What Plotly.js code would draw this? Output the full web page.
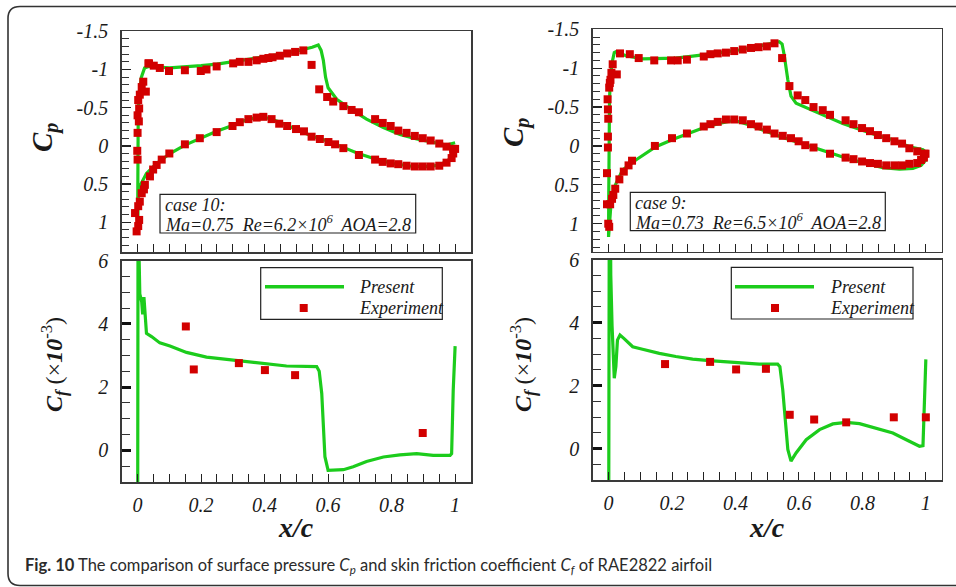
<!DOCTYPE html>
<html>
<head>
<meta charset="utf-8">
<script src="https://cdn.plot.ly/plotly-3.0.1.min.js"></script>
<style>html,body{margin:0;padding:0;background:#fff;}#chart{width:956px;height:587px;}</style>
</head>
<body>
<div id="chart"></div>
<script>
// ---------- Case 10 (Ma=0.75) : surface pressure ----------
const case10_cp_line_x = [1.0,0.978,0.952,0.92,0.868,0.8,0.746,0.695,0.648,0.6,0.548,0.495,0.443,0.396,0.348,0.301,0.249,0.149,0.102,0.06,0.028,0.007,0.002,0.0,
  0.0005,0.001,0.002,0.005,0.012,0.022,0.035,0.1,0.15,0.2,0.25,0.3,0.35,0.4,0.45,0.5,0.55,0.569,0.578,0.585,0.592,0.6,0.627,0.679,0.721,0.774,0.826,0.879,0.931,0.973,1.0];
const case10_cp_line = [0.07,0.19,0.25,0.27,0.27,0.23,0.17,0.10,0.02,-0.06,-0.13,-0.23,-0.32,-0.38,-0.35,-0.27,-0.19,-0.01,0.10,0.23,0.36,0.53,0.70,1.14,
  0.5,0.0,-0.4,-0.7,-0.9,-1.02,-1.04,-1.02,-1.03,-1.05,-1.07,-1.1,-1.13,-1.16,-1.2,-1.24,-1.29,-1.32,-1.25,-1.12,-0.9,-0.76,-0.61,-0.46,-0.35,-0.24,-0.15,-0.09,-0.04,-0.01,-0.04];
const case10_exp_x = [0.036,0.051,0.070,0.099,0.149,0.199,0.217,0.249,0.301,0.322,0.349,0.375,0.396,0.412,0.425,0.448,0.471,0.496,0.522,0.548,0.572,0.597,0.616,0.648,0.674,0.697,0.748,0.772,0.797,0.821,0.847,0.873,0.898,0.923,0.950,0.973,0.994,
  -0.001,0.0,0.0,0.004,0.0,0.005,0.002,0.007,0.013,0.018,0.026,0.034,
  0.039,0.049,0.06,0.076,0.1,0.023,0.02,0.013,0.007,0.002,-0.008,0.005,0.002,-0.003,
  0.149,0.196,0.249,0.299,0.322,0.349,0.375,0.396,0.422,0.446,0.471,0.499,0.524,0.548,0.574,0.601,0.622,0.648,0.697,0.748,0.772,0.797,0.821,0.847,0.873,0.898,0.923,0.950,0.973,0.989,0.994,1.0];
const case10_exp_cp = [-1.08,-1.05,-1.02,-0.98,-0.99,-0.98,-1.0,-1.04,-1.08,-1.10,-1.10,-1.12,-1.14,-1.15,-1.16,-1.18,-1.21,-1.23,-1.25,-1.06,-0.74,-0.64,-0.58,-0.52,-0.47,-0.44,-0.35,-0.30,-0.26,-0.20,-0.17,-0.13,-0.10,-0.07,-0.03,0.01,0.04,
  0.065,0.18,-0.17,-0.32,-0.40,-0.49,-0.60,-0.67,-0.77,-0.84,-0.71,-1.08,
  0.40,0.31,0.25,0.18,0.10,0.51,0.57,0.62,0.73,0.79,0.88,0.97,1.05,1.12,
  -0.02,-0.10,-0.18,-0.26,-0.31,-0.35,-0.37,-0.38,-0.35,-0.29,-0.26,-0.22,-0.19,-0.12,-0.09,-0.05,-0.02,0.03,0.12,0.18,0.21,0.23,0.24,0.26,0.27,0.27,0.27,0.26,0.22,0.16,0.10,0.04];

// ---------- Case 9 (Ma=0.73) : surface pressure ----------
const case9_cp_line_x = [1.0,0.985,0.959,0.917,0.864,0.812,0.759,0.707,0.654,0.601,0.549,0.496,0.444,0.396,0.349,0.297,0.212,0.149,0.086,0.044,0.018,0.007,0.0,
  0.0005,0.001,0.003,0.006,0.011,0.018,0.023,0.055,0.107,0.212,0.318,0.423,0.507,0.538,0.547,0.554,0.565,0.575,0.591,0.633,0.686,0.738,0.791,0.843,0.896,0.948,0.991,1.0];
const case9_cp_line = [0.18,0.25,0.29,0.30,0.28,0.23,0.17,0.10,0.03,-0.04,-0.11,-0.19,-0.27,-0.33,-0.29,-0.23,-0.10,0.01,0.18,0.31,0.53,0.78,1.17,
  0.70,-0.16,-0.6,-0.9,-1.07,-1.2,-1.21,-1.16,-1.12,-1.13,-1.18,-1.24,-1.32,-1.34,-1.31,-1.16,-0.85,-0.64,-0.55,-0.47,-0.38,-0.29,-0.21,-0.14,-0.08,0.01,0.05,0.08];
const case9_exp_x = [0.036,0.067,0.095,0.144,0.197,0.218,0.247,0.300,0.321,0.344,0.370,0.396,0.423,0.449,0.473,0.499,0.523,0.547,0.570,0.596,0.620,0.646,0.675,0.698,0.747,0.772,0.799,0.824,0.849,0.875,0.901,0.925,0.948,0.973,0.996,
  -0.003,-0.002,-0.001,-0.002,-0.002,0.002,0.004,0.006,0.009,0.013,0.026,
  -0.005,-0.005,-0.001,0.002,0.005,0.011,0.015,0.021,0.034,0.048,0.063,0.074,
  0.146,0.200,0.247,0.300,0.321,0.344,0.370,0.396,0.423,0.449,0.473,0.499,0.523,0.549,0.575,0.599,0.620,0.646,0.698,0.747,0.772,0.799,0.824,0.849,0.875,0.901,0.925,0.948,0.973,0.985,0.994,0.999];
const case9_exp_cp = [-1.19,-1.18,-1.13,-1.10,-1.10,-1.10,-1.11,-1.15,-1.18,-1.19,-1.20,-1.22,-1.24,-1.26,-1.27,-1.28,-1.32,-1.13,-0.77,-0.65,-0.59,-0.50,-0.46,-0.40,-0.33,-0.28,-0.23,-0.19,-0.14,-0.10,-0.06,-0.03,0.03,0.07,0.10,
  -0.60,-0.47,-0.35,-0.12,0.02,-0.75,-0.81,-0.85,-0.94,-1.05,-0.92,
  0.35,0.75,1.00,1.04,0.75,0.68,0.63,0.55,0.43,0.33,0.25,0.19,
  0.00,-0.10,-0.16,-0.25,-0.28,-0.31,-0.34,-0.34,-0.33,-0.28,-0.25,-0.21,-0.16,-0.13,-0.10,-0.06,-0.01,0.02,0.10,0.15,0.17,0.20,0.22,0.23,0.25,0.25,0.25,0.23,0.22,0.18,0.15,0.10];

// ---------- Skin friction (x 10^-3) ----------
const case10_cf_line_x = [0,0.002,0.005,0.007,0.013,0.016,0.02,0.028,0.044,0.07,0.102,0.154,0.217,0.301,0.406,0.469,0.564,0.572,0.58,0.585,0.59,0.6,0.648,0.679,0.721,0.774,0.826,0.879,0.931,0.984,0.989,0.994,1.0];
const case10_cf_line = [-5,12,6,4.95,4.7,4.3,4.85,3.7,3.6,3.4,3.3,3.1,2.95,2.85,2.72,2.67,2.65,2.5,1.8,0.85,-0.2,-0.63,-0.61,-0.52,-0.35,-0.21,-0.14,-0.1,-0.16,-0.16,-0.1,1.9,3.3];
const case10_cf_exp_x = [0.152,0.177,0.319,0.401,0.496,0.898];
const case10_cf_exp = [3.92,2.56,2.76,2.54,2.38,0.55];

const case9_cf_line_x = [0,0.003,0.007,0.011,0.018,0.023,0.028,0.036,0.049,0.076,0.107,0.16,0.212,0.265,0.318,0.423,0.475,0.533,0.54,0.549,0.559,0.565,0.575,0.591,0.623,0.665,0.707,0.749,0.791,0.843,0.896,0.948,0.98,0.991,0.996,1.0];
const case9_cf_line = [-5,12,5.5,3.9,2.23,2.6,3.44,3.6,3.49,3.23,3.15,3.02,2.92,2.84,2.79,2.71,2.68,2.68,2.6,1.86,0.7,-0.03,-0.4,-0.14,0.28,0.6,0.78,0.83,0.79,0.65,0.49,0.23,0.07,0.09,1.86,2.83];
const case9_cf_exp_x = [0.178,0.320,0.402,0.496,0.571,0.648,0.749,0.899,1.0];
const case9_cf_exp = [2.68,2.75,2.51,2.53,1.07,0.92,0.83,0.99,0.99];

// ---------- tick labels ----------
const cpTickVals = [-1.5,-1,-0.5,0,0.5,1];
const cpTickText = ["-1.5","-1","-0.5","0","0.5","1"];
const cfTickVals = [0,2,4,6];
const cfTickText = ["0","2","4","6"];
const xTickVals = [0,0.2,0.4,0.6,0.8,1];
const xTickText = ["0","0.2","0.4","0.6","0.8","1"];
const seriesNames = ["Present","Experiment"];

const GREEN = "#1ccc1c", RED = "#d20000";
const SERIF = "Liberation Serif, Times New Roman, serif";

function lineTrace(x, y, xa, ya) {
  return {x: x, y: y, xaxis: xa, yaxis: ya, type: "scatter", mode: "lines", name: seriesNames[0],
    line: {color: GREEN, width: 3.2}, showlegend: false, hoverinfo: "skip"};
}
function expTrace(x, y, xa, ya) {
  return {x: x, y: y, xaxis: xa, yaxis: ya, type: "scatter", mode: "markers", name: seriesNames[1],
    marker: {symbol: "square", size: 8, color: RED}, showlegend: false, cliponaxis: false, hoverinfo: "skip"};
}

const traces = [
  lineTrace(case10_cp_line_x, case10_cp_line, "x", "y"),
  expTrace(case10_exp_x, case10_exp_cp, "x", "y"),
  lineTrace(case10_cf_line_x, case10_cf_line, "x2", "y2"),
  expTrace(case10_cf_exp_x, case10_cf_exp, "x2", "y2"),
  lineTrace(case9_cp_line_x, case9_cp_line, "x3", "y3"),
  expTrace(case9_exp_x, case9_exp_cp, "x3", "y3"),
  lineTrace(case9_cf_line_x, case9_cf_line, "x4", "y4"),
  expTrace(case9_cf_exp_x, case9_cf_exp, "x4", "y4")
];

const W = 956, H = 587;
const px = v => v / W;
const py = v => 1 - v / H;
const tickFont = {family: SERIF, size: 20, style: "italic", color: "#1a1a1a"};
const LINEC = "#3a3a3a";

function xAxis(domain, anchor, labels) {
  return {domain: domain, anchor: anchor, range: [-0.05, 1.05], showgrid: false, zeroline: false,
    showline: true, mirror: true, linecolor: LINEC, linewidth: 1.5,
    ticks: "inside", ticklen: 8, tickwidth: 1, tickcolor: "#222",
    tickmode: "array", tickvals: xTickVals, ticktext: xTickText,
    minor: {tickmode: "linear", tick0: 0, dtick: 0.05, ticks: "inside", ticklen: 8, tickwidth: 1, tickcolor: "#222", showgrid: false},
    showticklabels: labels, tickfont: tickFont, ticklabelstandoff: 4, fixedrange: true};
}
function cpAxis(domain, anchor, range) {
  return {domain: domain, anchor: anchor, range: range, showgrid: false, zeroline: false,
    showline: true, mirror: true, linecolor: LINEC, linewidth: 1.5,
    ticks: "inside", ticklen: 9, tickwidth: 1.3, tickcolor: "#222",
    tickmode: "array", tickvals: cpTickVals, ticktext: cpTickText,
    minor: {tickmode: "linear", tick0: 0, dtick: 0.1, ticks: "inside", ticklen: 7, tickwidth: 1, tickcolor: "#333", showgrid: false},
    tickfont: tickFont, ticklabelstandoff: 8, fixedrange: true};
}
function cfAxis(domain, anchor) {
  return {domain: domain, anchor: anchor, range: [-1, 6], showgrid: false, zeroline: false,
    showline: true, mirror: true, linecolor: LINEC, linewidth: 1.5,
    ticks: "inside", ticklen: 9, tickwidth: 3, tickcolor: "#111",
    tickmode: "array", tickvals: cfTickVals, ticktext: cfTickText,
    minor: {tickmode: "linear", tick0: 0, dtick: 0.5, ticks: "inside", ticklen: 8, tickwidth: 1, tickcolor: "#333", showgrid: false},
    tickfont: tickFont, ticklabelstandoff: 8, fixedrange: true};
}

const LX = [px(121.7), px(471)], RX = [px(592.7), px(941.7)];

const shapes = [];
const annotations = [];

// outer rounded frame
const fl = px(8), ft = py(6.5), fb = py(585.5), rx = 12 / W, ry = 12 / H;
shapes.push({type: "path", xref: "paper", yref: "paper",
  path: `M 1.02,${ft} L ${fl + rx},${ft} Q ${fl},${ft} ${fl},${ft - ry} L ${fl},${fb + ry} Q ${fl},${fb} ${fl + rx},${fb} L 1.02,${fb}`,
  line: {color: "#333", width: 1.6}, fillcolor: "rgba(0,0,0,0)"});

function textAnn(x, y, text, size, opts) {
  return Object.assign({xref: "paper", yref: "paper", x: px(x), y: py(y), text: text, showarrow: false,
    font: {family: SERIF, size: size, color: "#1a1a1a"}, xanchor: "center", yanchor: "middle"}, opts || {});
}

// case boxes
function caseBox(x0, y0, x1, y1, l1, l2) {
  shapes.push({type: "rect", xref: "paper", yref: "paper", x0: px(x0), x1: px(x1), y0: py(y0), y1: py(y1),
    line: {color: "#222", width: 1.2}, fillcolor: "#fff"});
  annotations.push(textAnn(x0 + 3, y0 + 11, "<i>" + l1 + "</i>", 18, {xanchor: "left"}));
  annotations.push(textAnn(x0 + 3, y0 + 29, "<i>" + l2 + "</i>", 18, {xanchor: "left"}));
}
caseBox(160, 194.3, 415.7, 233, "case 10:", "Ma=0.75  Re=6.2×10<sup>6</sup>  AOA=2.8");
caseBox(630.3, 192.3, 885.3, 230.7, "case 9:", "Ma=0.73  Re=6.5×10<sup>6</sup>  AOA=2.8");

// legends
function legendBox(x0, y0, x1, y1, lx0, lx1, ly, sqx, sqy, tx) {
  shapes.push({type: "rect", xref: "paper", yref: "paper", x0: px(x0), x1: px(x1), y0: py(y0), y1: py(y1),
    line: {color: "#222", width: 1.2}, fillcolor: "#fff"});
  shapes.push({type: "line", xref: "paper", yref: "paper", x0: px(lx0), x1: px(lx1), y0: py(ly), y1: py(ly),
    line: {color: GREEN, width: 3.5}});
  shapes.push({type: "rect", xref: "paper", yref: "paper", x0: px(sqx - 4), x1: px(sqx + 4), y0: py(sqy - 4), y1: py(sqy + 4),
    line: {width: 0}, fillcolor: RED});
  annotations.push(textAnn(tx, ly, "<i>" + seriesNames[0] + "</i>", 18, {xanchor: "left"}));
  annotations.push(textAnn(tx, sqy, "<i>" + seriesNames[1] + "</i>", 18, {xanchor: "left"}));
}
legendBox(260.7, 267.7, 442.3, 319.3, 265, 344, 286.7, 303.7, 308, 357);
legendBox(731.3, 267.3, 913, 319, 735, 814, 286.7, 775, 308, 828);

// axis titles
const cpTitle = "<b><i>C<sub>p</sub></i></b>";
const cfTitle = "<b><i>C<sub>f</sub></i></b> (×<b><i>10</i></b><sup>-3</sup>)";
const xTitle = "<b><i>x/c</i></b>";
annotations.push(textAnn(45, 138, cpTitle, 29, {textangle: -90}));
annotations.push(textAnn(515, 133, cpTitle, 29, {textangle: -90}));
annotations.push(textAnn(54, 365, cfTitle, 24, {textangle: -90}));
annotations.push(textAnn(523, 365, cfTitle, 24, {textangle: -90}));
annotations.push(textAnn(296, 527, xTitle, 28));
annotations.push(textAnn(767, 527, xTitle, 28));

// caption
annotations.push({xref: "paper", yref: "paper", x: px(23), y: py(565), xanchor: "left", yanchor: "middle", showarrow: false,
  text: "<b>Fig. 10</b> The comparison of surface pressure <i>C<sub>p</sub></i> and skin friction coefficient <i>C<sub>f</sub></i> of RAE2822 airfoil",
  font: {family: "Lato, Noto Sans, sans-serif", size: 16.5, color: "#2a2a2a"}});

const layout = {
  width: W, height: H, margin: {l: 0, r: 0, t: 0, b: 0},
  paper_bgcolor: "#fff", plot_bgcolor: "#fff", showlegend: false,
  xaxis: xAxis(LX, "y", false),
  yaxis: cpAxis([py(252), py(31.3)], "x", [1.39, -1.5]),
  xaxis2: xAxis(LX, "y2", true),
  yaxis2: cfAxis([py(482), py(260.7)], "x2"),
  xaxis3: xAxis(RX, "y3", false),
  yaxis3: cpAxis([py(251.7), py(29.3)], "x3", [1.36, -1.5]),
  xaxis4: xAxis(RX, "y4", true),
  yaxis4: cfAxis([py(480), py(259.5)], "x4"),
  shapes: shapes, annotations: annotations
};

Plotly.newPlot("chart", traces, layout, {displayModeBar: false, staticPlot: true});
</script>
</body>
</html>
